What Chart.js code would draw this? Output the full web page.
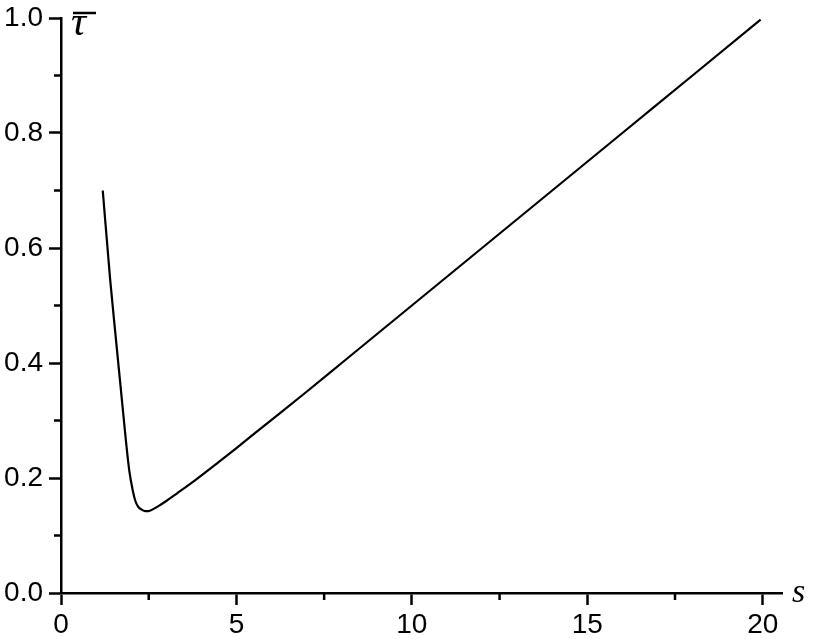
<!DOCTYPE html>
<html>
<head>
<meta charset="utf-8">
<script src="https://cdn.jsdelivr.net/npm/chart.js@4.4.1/dist/chart.umd.min.js"></script>
<style>
  html, body { margin: 0; padding: 0; background: #fff; }
  #wrap { width: 819px; height: 639px; }
</style>
</head>
<body>
<div id="wrap"><canvas id="c" width="819" height="639"></canvas></div>
<script>
// Data
const sValues   = [1.19, 1.40, 1.55, 1.70, 1.85, 1.95, 2.05, 2.12, 2.20, 2.30, 2.40, 2.50, 2.60, 2.80, 3.00, 3.30, 3.80, 4.50, 5.00, 5.67, 7.00, 8.00, 10.00, 12.00, 14.00, 16.00, 18.00, 19.94];
const tauValues = [0.700, 0.546, 0.451, 0.358, 0.265, 0.211, 0.177, 0.160, 0.150, 0.145, 0.1425, 0.1425, 0.145, 0.152, 0.160, 0.173, 0.195, 0.228, 0.252, 0.285, 0.350, 0.400, 0.500, 0.600, 0.700, 0.800, 0.900, 0.997];
const xMajorTicks = [0, 5, 10, 15, 20];
const xMinorTicks = [2.5, 7.5, 12.5, 17.5];
const yMajorTicks = [0.0, 0.2, 0.4, 0.6, 0.8, 1.0];
const yMinorTicks = [0.1, 0.3, 0.5, 0.7, 0.9];

const points = sValues.map((s, i) => ({ x: s, y: tauValues[i] }));

const minorTicksPlugin = {
  id: 'minorTicks',
  afterDraw(chart) {
    const ctx = chart.ctx;
    const xs = chart.scales.x, ys = chart.scales.y;
    const ca = chart.chartArea;
    ctx.save();
    ctx.strokeStyle = '#000';
    ctx.lineWidth = 2.5;
    ctx.beginPath();
    xMinorTicks.forEach(v => {
      const px = xs.getPixelForValue(v);
      ctx.moveTo(px, ca.bottom);
      ctx.lineTo(px, ca.bottom + 7);
    });
    yMinorTicks.forEach(v => {
      const py = ys.getPixelForValue(v);
      ctx.moveTo(ca.left, py);
      ctx.lineTo(ca.left - 7, py);
    });
    ctx.stroke();
    // axis titles
    ctx.fillStyle = '#000';
    ctx.textBaseline = 'alphabetic';
    ctx.textAlign = 'left';
    ctx.font = 'italic 34px "Liberation Serif", "DejaVu Serif", serif';
    ctx.fillText('s', ca.right + 10, ca.bottom + 9);
    ctx.font = 'italic 42px "Liberation Serif", "DejaVu Serif", serif';
    const tx = ca.left + 10, ty = ca.top + 17;
    ctx.fillText('τ', tx, ty);
    ctx.beginPath();
    ctx.lineWidth = 2.5;
    ctx.moveTo(tx + 2, ca.top - 5);
    ctx.lineTo(tx + 25, ca.top - 5);
    ctx.stroke();
    ctx.restore();
  }
};

new Chart(document.getElementById('c'), {
  type: 'scatter',
  data: {
    datasets: [{
      data: points,
      showLine: true,
      borderColor: '#000',
      borderWidth: 2.2,
      pointRadius: 0,
      cubicInterpolationMode: 'monotone',
      fill: false
    }]
  },
  options: {
    responsive: false,
    animation: false,
    events: [],
    layout: { padding: { left: 0, right: 37, top: 18, bottom: 0 } },
    plugins: { legend: { display: false }, tooltip: { enabled: false } },
    scales: {
      x: {
        type: 'linear',
        min: 0,
        max: 20.55,
        afterFit(s) { s.height = 46; s.paddingLeft = 0; s.paddingRight = 0; },
        afterBuildTicks(s) { s.ticks = xMajorTicks.map(v => ({ value: v })); },
        ticks: {
          includeBounds: false,
          color: '#000',
          font: { family: '"Liberation Sans", Arial, sans-serif', size: 28 },
          padding: 3,
          maxRotation: 0,
          callback: v => String(v)
        },
        grid: { drawOnChartArea: false, drawTicks: true, tickLength: 12, tickWidth: 2.5, tickColor: '#000' },
        border: { display: true, color: '#000', width: 2.5 }
      },
      y: {
        type: 'linear',
        min: 0,
        max: 1.0,
        afterFit(s) { s.width = 61; s.paddingTop = 0; s.paddingBottom = 0; },
        afterBuildTicks(s) { s.ticks = yMajorTicks.map(v => ({ value: v })); },
        ticks: {
          includeBounds: false,
          color: '#000',
          font: { family: '"Liberation Sans", Arial, sans-serif', size: 28 },
          padding: 6,
          callback: v => Number(v).toFixed(1)
        },
        grid: { drawOnChartArea: false, drawTicks: true, tickLength: 12, tickWidth: 2.5, tickColor: '#000' },
        border: { display: true, color: '#000', width: 2.5 }
      }
    }
  },
  plugins: [minorTicksPlugin]
});
</script>
</body>
</html>
